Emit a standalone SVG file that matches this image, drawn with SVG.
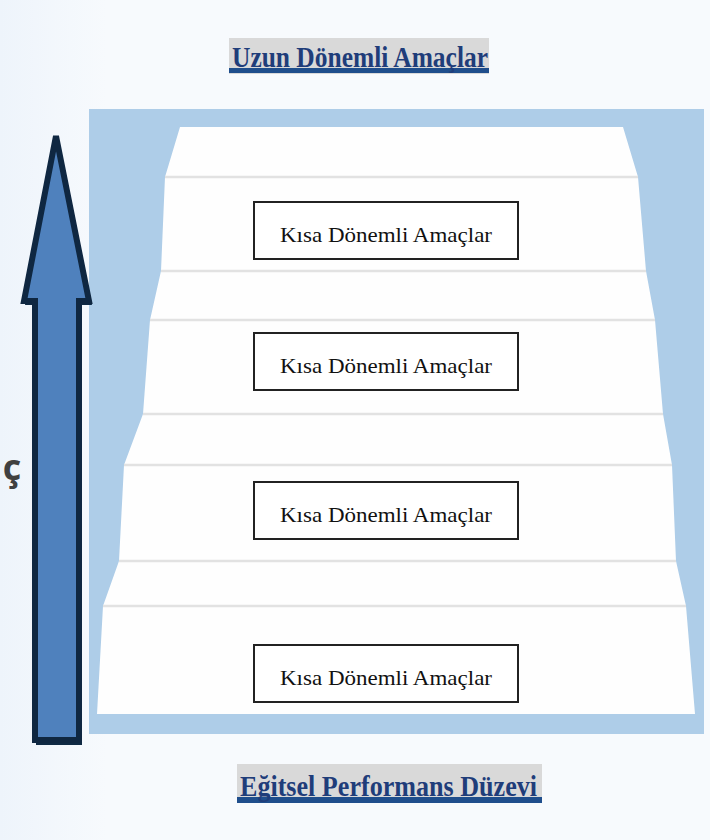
<svg xmlns="http://www.w3.org/2000/svg" width="710" height="840" viewBox="0 0 710 840">
<defs>
<style>
.title{font-family:"Liberation Serif","Times New Roman",serif;font-weight:bold;font-size:30px;fill:#1f3d7a}
.lbl{font-family:"Liberation Serif","Times New Roman",serif;font-size:22px;fill:#111}
.box{fill:#fff;stroke:#222;stroke-width:2}
.sep{stroke:#e2e2e2;stroke-width:2.5}
.hl{fill:#d9d9d9}
.ul{fill:#1f4e8c}
</style>
<linearGradient id="bg" x1="0" y1="0" x2="1" y2="0">
<stop offset="0" stop-color="#eef4fb"/>
<stop offset="0.15" stop-color="#f7fafd"/>
<stop offset="1" stop-color="#f7fafd"/>
</linearGradient>
</defs>
<rect x="0" y="0" width="710" height="840" fill="url(#bg)"/>
<g id="panel">
<rect x="89" y="109" width="615" height="625" fill="#aecde8"/>
<polygon points="180,127 165,177 161,271 150,320 143,414 124,465 119,561 103,606 97,714 695,714 686,606 676,561 672,465 663,414 655,320 646,271 638,177 623,127" fill="#fefefe"/>
<line class="sep" x1="165" y1="177" x2="638" y2="177"/>
<line class="sep" x1="161" y1="271" x2="646" y2="271"/>
<line class="sep" x1="150" y1="320" x2="655" y2="320"/>
<line class="sep" x1="143" y1="414" x2="663" y2="414"/>
<line class="sep" x1="124" y1="465" x2="672" y2="465"/>
<line class="sep" x1="119" y1="561" x2="676" y2="561"/>
<line class="sep" x1="103" y1="606" x2="686" y2="606"/>
</g>
<g id="title-top">
<rect class="hl" x="229" y="38" width="260" height="36"/>
<rect class="ul" x="229" y="68" width="260" height="5"/>
<text class="title" x="232" y="67" textLength="256" lengthAdjust="spacingAndGlyphs">Uzun Dönemli Amaçlar</text>
</g>
<g id="title-bottom">
<rect class="hl" x="237" y="764" width="305" height="39"/>
<rect class="ul" x="237" y="797" width="305" height="6"/>
<text class="title" x="240" y="796" textLength="297" lengthAdjust="spacingAndGlyphs">Eğitsel Performans Düzevi</text>
</g>
<g id="goal1">
<rect class="box" x="254" y="202" width="264" height="57"/>
<text class="lbl" x="386" y="242" text-anchor="middle" textLength="212" lengthAdjust="spacingAndGlyphs">Kısa Dönemli Amaçlar</text>
</g>
<g id="goal2">
<rect class="box" x="254" y="333" width="264" height="57"/>
<text class="lbl" x="386" y="373" text-anchor="middle" textLength="212" lengthAdjust="spacingAndGlyphs">Kısa Dönemli Amaçlar</text>
</g>
<g id="goal3">
<rect class="box" x="254" y="482" width="264" height="57"/>
<text class="lbl" x="386" y="522" text-anchor="middle" textLength="212" lengthAdjust="spacingAndGlyphs">Kısa Dönemli Amaçlar</text>
</g>
<g id="goal4">
<rect class="box" x="254" y="645" width="264" height="57"/>
<text class="lbl" x="386" y="685" text-anchor="middle" textLength="212" lengthAdjust="spacingAndGlyphs">Kısa Dönemli Amaçlar</text>
</g>
<g id="arrow">
<polygon points="58,140 25,305 36,305 36,745 82,745 82,305 92,305" fill="#0f2a44"/>
<polygon points="56,136 24,301 35,301 35,740 79,740 79,301 89,301" fill="#4f81bd" stroke="#0f2741" stroke-width="6" stroke-linejoin="miter"/>
</g>
<g id="side-label">
<text x="12" y="480" text-anchor="middle" font-family="'Open Sans','Liberation Sans',sans-serif" font-weight="bold" font-size="36" fill="#404040">ç</text>
</g>
</svg>
